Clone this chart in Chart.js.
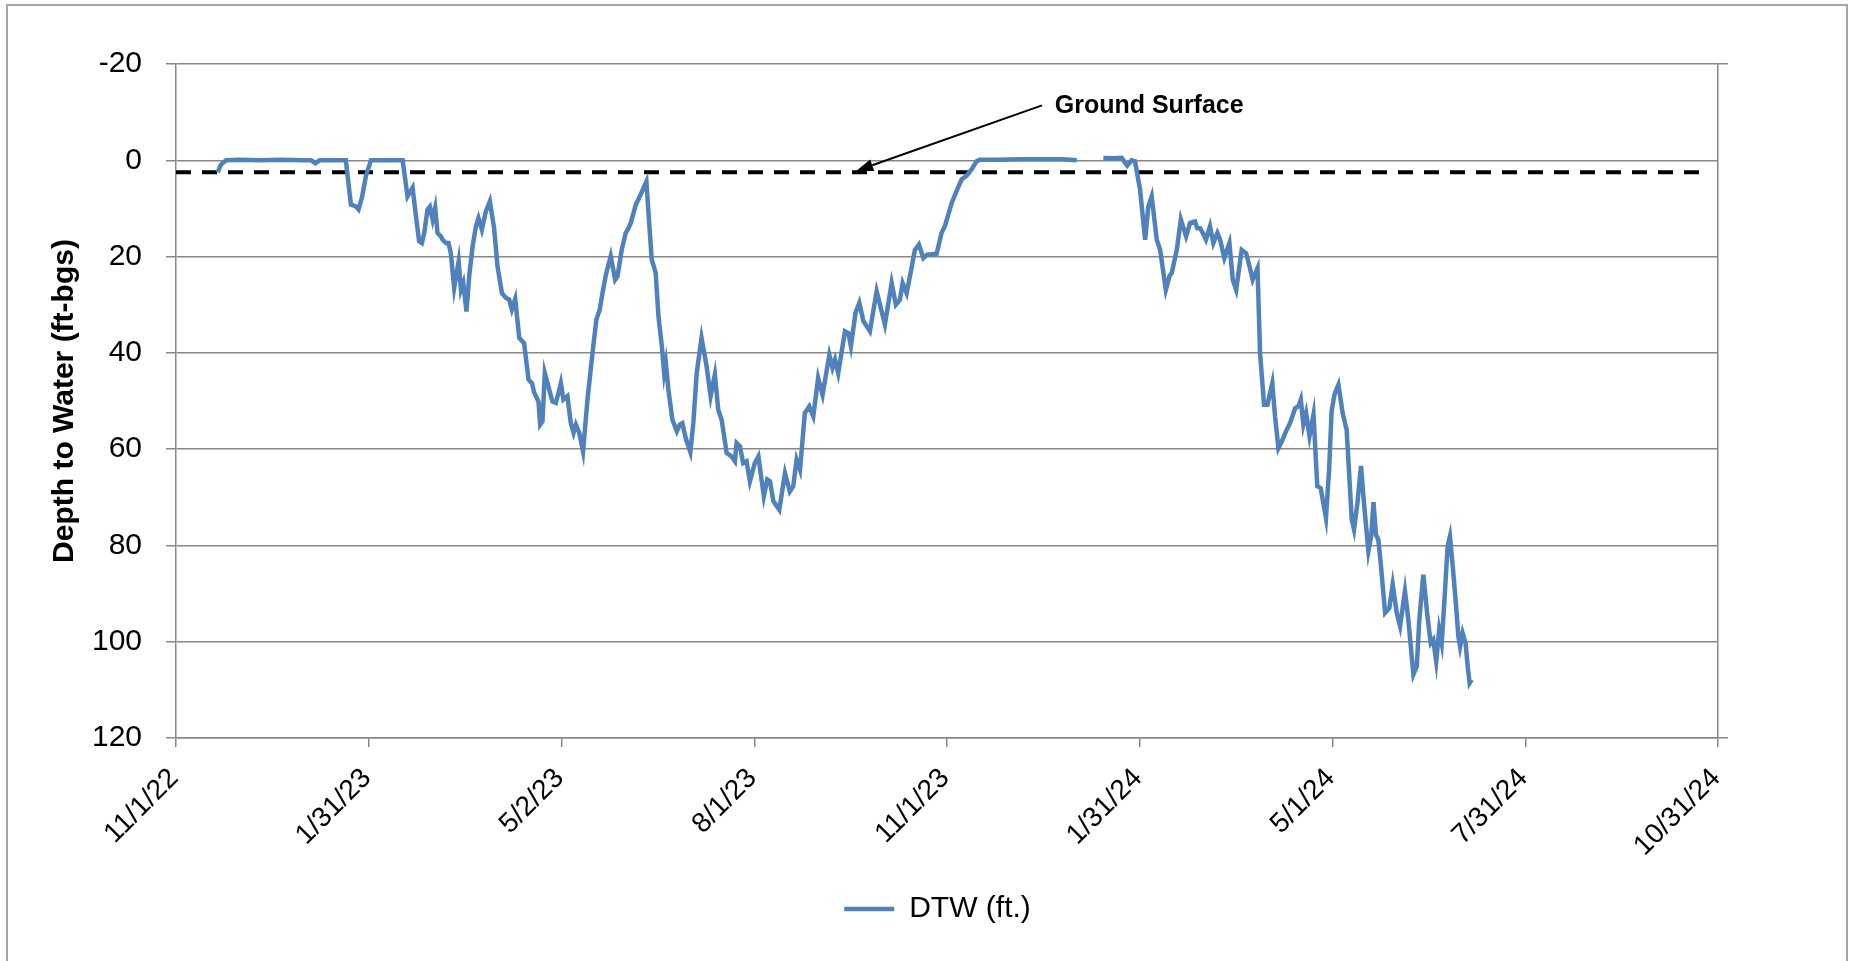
<!DOCTYPE html>
<html>
<head>
<meta charset="utf-8">
<script src="https://cdn.jsdelivr.net/npm/chart.js@4.4.1/dist/chart.umd.min.js"></script>
<style>
  html, body { margin: 0; padding: 0; background: #ffffff; }
  canvas { display: block; }
</style>
</head>
<body>
<canvas id="c" width="1855" height="961"></canvas>
<script>
// ---- DATA (x = days since 11/1/22) ----
const seriesName = 'DTW (ft.)';
const daysSinceStart = [
  19.7, 21.3, 23.7, 30, 40, 50, 60, 64, 66, 68, 75, 80.4, 82.8, 85.2, 86.4, 88, 89.9, 92.3, 100, 107.3,
  109.6, 112, 113.6, 115.1, 116.4, 117.5, 119.1, 120.2, 121.5, 122.7, 123.8, 125.4, 126.2, 127.8, 129, 130.1,
  131.7, 133.8, 134.9, 136, 137.5, 138.8, 140.4, 142, 143.2, 144.8, 146.7, 148.6, 150.6, 152.2, 154.3, 156.2,
  157.7, 159, 160.6, 162.5, 164.8, 166.9, 168.5, 169.6, 171.6, 172.4, 173.5, 174.6, 176.3, 178.2, 179.8, 181.1,
  182.2, 183.4, 185.3, 186.9, 188.2, 189.3, 190.9, 192.7, 194.8, 197.2, 199, 200.6, 201.9, 203.5, 205.8, 207.9,
  209, 211, 212.9, 214.2, 215.3, 217.7, 220, 222.7, 224, 225.2, 227.1, 228.4, 230, 231.1, 231.9, 233.1, 235,
  237.1, 238.5, 239.7, 241.3, 243.5, 244.9, 246.5, 248.8, 251.2, 253.1, 255.1, 256.7, 258.3, 260.7, 263, 264.6,
  265.4, 267, 268.5, 270.1, 271.7, 274, 275.7, 277.2, 278.3, 279.9, 281.2, 282.8, 285.6, 288.3, 290.6, 292.2,
  293.8, 295.4, 297.7, 299.8, 301.7, 304, 306.1, 309.3, 310.8, 312, 313.5, 316.7, 318.3, 319.5, 321.7, 323.5,
  325.4, 328.5, 331.7, 335.6, 338.8, 340.8, 342.7, 344, 345.9, 348.2, 349.8, 351.7, 353.8, 355.7, 360.1, 362.4,
  364, 367.2, 369.5, 371.9, 374.3, 376.6, 379, 380.6, 390, 400, 410, 420, 426.4,
  432,
  439, 444, 447.7, 450.3, 452.4, 454, 456.4, 458.8, 460.3, 461.9, 464.3, 465.9, 468.6, 470.3, 471.4, 473.8,
  475.7, 478.2, 480.1, 482.4, 483.5, 484.8, 486.1, 487.6, 489.5, 491.1, 493, 494.3, 496.3, 498.7, 500.3, 501.9,
  504.5, 506.6, 508.2, 509.7, 512, 513.2, 515.1, 516.7, 519, 520.3, 521.9, 523.5, 525.8, 527.4, 529.8, 531.4,
  532.5, 533.7, 535, 536.6, 538.5, 540.3, 541.9, 544.4, 545.9, 547.1, 548.5, 550.3, 552.3, 554.2, 556.6, 557.7,
  559.3, 561, 562.4, 564.5, 565.8, 566.9, 568.1, 569.2, 570.3, 572.4, 574.4, 576, 577.9, 579.5, 581.8, 583.4,
  585.8, 587.4, 588.6, 590.5, 592.4, 594, 595.2, 596.6, 598, 599.2, 600.6, 602, 603.1, 604.5, 605.9, 607.1,
  607.9, 609.1, 610.5, 611.5, 612.4, 613.4
];
const depthToWater = [
  2.5, 0.9, 0.0, -0.1, 0, -0.1, 0, 0, 0.6, 0, 0, 0, 9.2, 9.6, 10.2, 7.8, 3.3, 0, 0, 0,
  7.5, 5.7, 11.6, 16.8, 17.2, 15.1, 10.2, 9.6, 12.3, 9.9, 15.1, 15.8, 16.5, 17.2, 17.2, 19.3,
  26.5, 21, 26.9, 25.5, 31.4, 24.1, 17.9, 13.7, 12, 14.4, 10.6, 8.5, 14.1, 22, 27.6, 28.6,
  28.9, 31, 28.8, 36.9, 38, 45.6, 46.3, 48.3, 50.1, 54.9, 54.2, 44.2, 47, 50.1, 50.4, 48.3,
  46.3, 49.7, 49, 54.6, 56.6, 54.9, 56.6, 60.5, 49.7, 40, 33.1, 31, 27.6, 23.8, 19.9, 24.8,
  24.1, 18.6, 15.1, 14.1, 13, 9.2, 7.1, 4.4, 13, 20.6, 23.4, 32.4, 38.6, 44.2, 42.1, 47.6, 53.9,
  56.3, 54.9, 54.6, 57.7, 60.6, 54.6, 44.2, 36.9, 42.8, 49, 44.5, 51.8, 53.9, 60.8, 61.5, 62.5,
  58.7, 59.4, 62.9, 62.5, 66.7, 62.9, 61.5, 66.3, 69.8, 66.3, 66.7, 70.8, 72.6, 65, 68.8, 67.7,
  62.2, 64.3, 52.5, 51.1, 53.2, 45.2, 48.7, 40.4, 43.1, 41.4, 44.2, 35.5, 35.9, 38.6, 31.7, 29.6,
  33.4, 35.5, 27.2, 34.1, 25.5, 30, 29, 25.5, 27.6, 22.4, 18.6, 17.5, 20.3, 19.6, 19.4, 15.1,
  13.7, 8.9, 6.4, 4, 3.2, 1.9, 0.2, -0.1, -0.1, -0.2, -0.2, -0.2, 0,
  null,
  -0.5, -0.4, -0.5, 1.1, 0, 0.2, 6.1, 16.5, 9.6, 7.5, 16.5, 18.6, 26.9, 24.1, 23.4, 18.6,
  12.3, 15.8, 13, 12.7, 14.1, 14.1, 15.1, 16.5, 13.7, 17.2, 15.1, 16.5, 20.3, 17.2, 24.8, 26.9,
  18.6, 19.3, 22, 24.8, 22.4, 40, 50.8, 50.8, 46.3, 53.2, 59.8, 58.4, 56, 54.6, 51.5, 51.1,
  49.7, 54.9, 52.5, 57.3, 52.8, 67.7, 68.1, 74.3, 64.2, 52, 48.5, 46.6, 52.5, 56, 74.6, 76.7,
  71.2, 63.5, 71.2, 81.2, 78.1, 71, 77.8, 78.8, 83.6, 94, 93, 88.1, 94, 96.8, 89.5, 95.4,
  106.8, 105.1, 95.4, 86.1, 94.5, 100.3, 99.6, 104.1, 97.5, 100.3, 90.6, 80.2, 78.1, 84.7, 92, 98.9,
  101, 98.2, 100.3, 105.1, 108.6, 107.9
];
const groundSurfaceDays = [0, 725];
const groundSurfaceDepth = [2.5, 2.5];
const xTickLabels = ['11/1/22', '1/31/23', '5/2/23', '8/1/23', '11/1/23', '1/31/24', '5/1/24', '7/31/24', '10/31/24'];
const yAxisTitle = 'Depth to Water (ft-bgs)';
const annotationText = 'Ground Surface';
const arrowTail = { x: 410, y: -11.4 };
const arrowTip = { x: 322, y: 2.2 };
const annotationTextPos = { x: 416, y: -11.2 };

// ---- STYLE ----
const FONT = '"Liberation Sans", Arial, sans-serif';
const GRID = '#888888';
const BLUE = '#4f81bd';

const borderPlugin = {
  id: 'outerBorder',
  beforeDraw(chart) {
    const ctx = chart.ctx;
    ctx.save();
    ctx.fillStyle = '#ffffff';
    ctx.fillRect(0, 0, chart.width, chart.height);
    ctx.strokeStyle = '#a6a6a6';
    ctx.lineWidth = 2;
    ctx.strokeRect(7, 5, 1840, 1000);
    ctx.restore();
  }
};

const annotationPlugin = {
  id: 'groundAnnotation',
  afterDatasetsDraw(chart) {
    const ctx = chart.ctx;
    const xs = chart.scales.x, ys = chart.scales.y;
    const tx = xs.getPixelForValue(arrowTail.x), ty = ys.getPixelForValue(arrowTail.y);
    const hx = xs.getPixelForValue(arrowTip.x), hy = ys.getPixelForValue(arrowTip.y);
    const ang = Math.atan2(hy - ty, hx - tx);
    const headLen = 17, headHalf = 6;
    const bx = hx - headLen * Math.cos(ang), by = hy - headLen * Math.sin(ang);
    ctx.save();
    ctx.strokeStyle = '#000';
    ctx.lineWidth = 2;
    ctx.beginPath();
    ctx.moveTo(tx, ty);
    ctx.lineTo(bx, by);
    ctx.stroke();
    ctx.fillStyle = '#000';
    ctx.beginPath();
    ctx.moveTo(hx, hy);
    ctx.lineTo(bx + headHalf * Math.sin(ang), by - headHalf * Math.cos(ang));
    ctx.lineTo(bx - headHalf * Math.sin(ang), by + headHalf * Math.cos(ang));
    ctx.closePath();
    ctx.fill();
    ctx.font = 'bold 25px ' + FONT;
    ctx.textAlign = 'left';
    ctx.textBaseline = 'middle';
    ctx.fillText(annotationText, xs.getPixelForValue(annotationTextPos.x), ys.getPixelForValue(annotationTextPos.y));
    ctx.restore();
  }
};

new Chart(document.getElementById('c'), {
  type: 'line',
  data: {
    datasets: [
      {
        label: seriesName,
        data: daysSinceStart.map((d, i) => ({ x: d, y: depthToWater[i] })),
        borderColor: BLUE,
        backgroundColor: BLUE,
        borderWidth: 4.5,
        pointRadius: 0,
        pointStyle: 'line',
        tension: 0,
        spanGaps: false,
        yAxisID: 'y'
      },
      {
        label: 'Ground Surface',
        data: groundSurfaceDays.map((d, i) => ({ x: d, y: groundSurfaceDepth[i] })),
        borderColor: '#000000',
        borderWidth: 4,
        borderDash: [15, 11],
        pointRadius: 0,
        tension: 0,
        yAxisID: 'y'
      }
    ]
  },
  options: {
    responsive: false,
    animation: false,
    devicePixelRatio: 1,
    layout: { padding: { left: 20, right: 0, top: 64, bottom: 27 } },
    plugins: {
      legend: {
        position: 'bottom',
        labels: {
          filter: (item) => item.datasetIndex === 0,
          usePointStyle: true,
          pointStyle: 'line',
          pointStyleWidth: 50,
          padding: 10,
          color: '#000',
          font: { family: FONT, size: 30 }
        }
      },
      tooltip: { enabled: false }
    },
    scales: {
      x: {
        type: 'linear',
        min: 0,
        max: 730,
        ticks: {
          stepSize: 91.25,
          autoSkip: false,
          minRotation: 45,
          maxRotation: 45,
          padding: 15,
          labelOffset: -2,
          color: '#000',
          font: { family: FONT, size: 28 },
          callback: (v, i) => xTickLabels[i] ?? ''
        },
        grid: { drawOnChartArea: false, drawTicks: true, tickLength: 9, color: GRID, lineWidth: 1.5 },
        border: { display: true, color: GRID, width: 1.5 },
        afterFit: (s) => { s.height = 146; }
      },
      y: {
        type: 'linear',
        position: 'left',
        reverse: true,
        min: -20,
        max: 120,
        ticks: { stepSize: 20, padding: 24, color: '#000', font: { family: FONT, size: 30 } },
        grid: { color: GRID, lineWidth: 1.5, tickLength: 10 },
        border: { display: true, color: GRID, width: 1.5 },
        title: {
          display: true,
          text: yAxisTitle,
          color: '#000',
          font: { family: FONT, size: 30, weight: 'bold' },
          padding: { top: 27, bottom: 0 }
        },
        afterFit: (s) => { s.width = 156; }
      },
      y2: {
        type: 'linear',
        position: 'right',
        reverse: true,
        min: -20,
        max: 120,
        ticks: { stepSize: 140, display: false },
        grid: { drawOnChartArea: false, tickLength: 10, color: GRID, lineWidth: 1.5 },
        border: { display: true, color: GRID, width: 1.5 },
        afterFit: (s) => { s.width = 137; }
      }
    }
  },
  plugins: [borderPlugin, annotationPlugin]
});
</script>
</body>
</html>
